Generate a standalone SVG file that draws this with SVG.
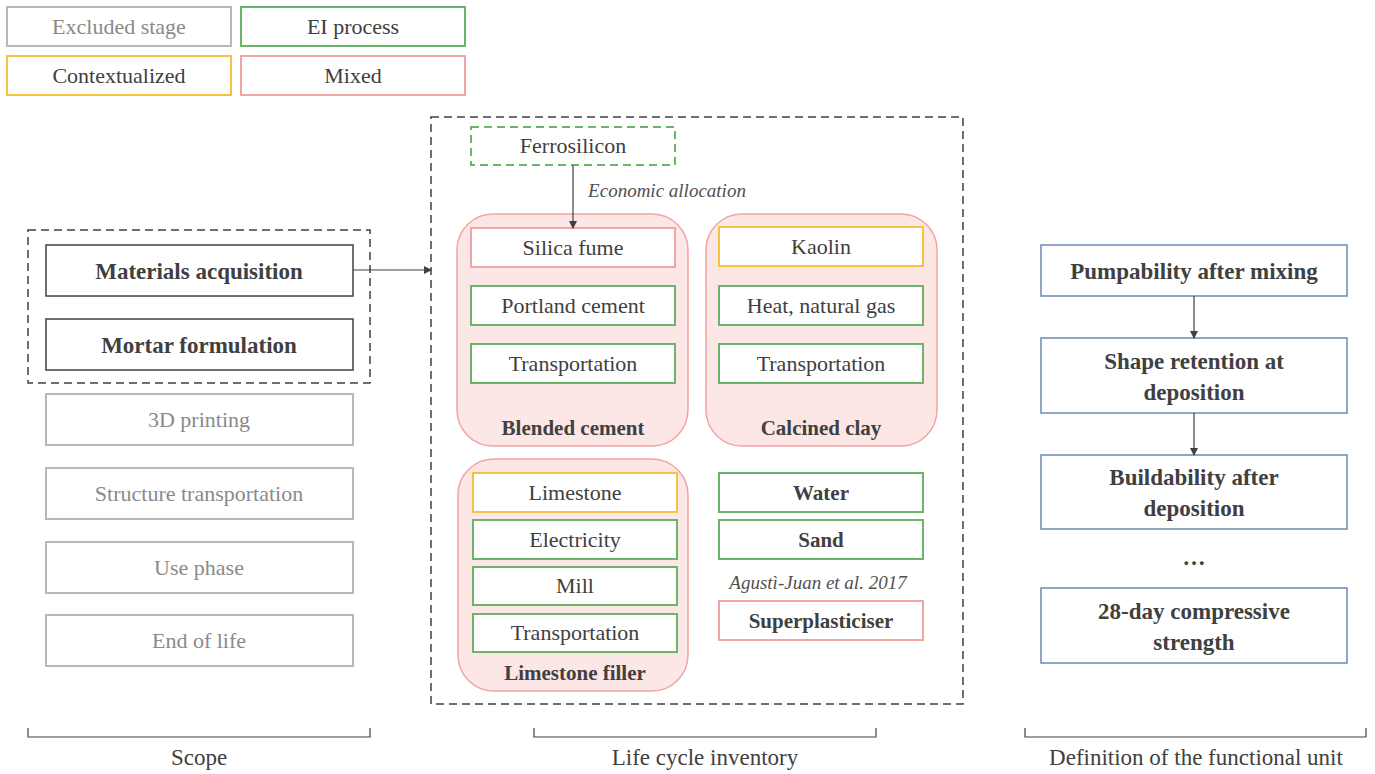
<svg xmlns="http://www.w3.org/2000/svg" width="1375" height="774" viewBox="0 0 1375 774">
<defs>
<marker id="ah" markerWidth="8" markerHeight="8" refX="7" refY="4" orient="auto" markerUnits="userSpaceOnUse">
<path d="M0,0 L8,4 L0,8 z" fill="#404040"/>
</marker>
<style>
.t{font-size:22px;fill:#404040;text-anchor:middle;}
.b{font-size:23px;font-weight:bold;fill:#404040;text-anchor:middle;}
.s{font-size:21px;font-weight:bold;fill:#404040;text-anchor:middle;}
.i{font-size:19px;font-style:italic;fill:#505050;text-anchor:middle;}
.l{font-size:23px;fill:#404040;text-anchor:middle;}
.gt{font-size:22px;fill:#8a8a8a;text-anchor:middle;}
.g{fill:#fff;stroke:#6cb46c;stroke-width:2;}
.y{fill:#fff;stroke:#f5c242;stroke-width:2;}
.p{fill:#fff;stroke:#f2a4a4;stroke-width:2;}
.x{fill:#fff;stroke:#b8b8b8;stroke-width:2;}
.k{fill:#fff;stroke:#404040;stroke-width:1.5;}
.bl{fill:#fff;stroke:#6a8ab4;stroke-width:1.5;}
.grp{fill:#fde6e6;stroke:#f2a4a4;stroke-width:1.5;}
.dash{fill:none;stroke:#404040;stroke-width:1.5;stroke-dasharray:8,5;}
.con{fill:none;stroke:#404040;stroke-width:1.2;}
.br{fill:none;stroke:#404040;stroke-width:1.2;}
</style>
</defs>

<g id="legend">
<g id="leg-excluded"><rect class="x" x="7" y="7" width="224" height="39"/><text font-family="Liberation Serif, serif" class="gt" x="119" y="34">Excluded stage</text></g>
<g id="leg-ei"><rect class="g" x="241" y="7" width="224" height="39"/><text font-family="Liberation Serif, serif" class="t" x="353" y="34">EI process</text></g>
<g id="leg-context"><rect class="y" x="7" y="56" width="224" height="39"/><text font-family="Liberation Serif, serif" class="t" x="119" y="83">Contextualized</text></g>
<g id="leg-mixed"><rect class="p" x="241" y="56" width="224" height="39"/><text font-family="Liberation Serif, serif" class="t" x="353" y="83">Mixed</text></g>
</g>

<g id="scope">
<rect id="scope-box" class="dash" x="28" y="230" width="342" height="153"/>
<g id="materials"><rect class="k" x="46" y="245" width="307" height="51"/><text font-family="Liberation Serif, serif" class="b" x="199" y="279">Materials acquisition</text></g>
<g id="mortar"><rect class="k" x="46" y="319" width="307" height="51"/><text font-family="Liberation Serif, serif" class="b" x="199" y="353">Mortar formulation</text></g>
<g id="printing"><rect class="x" x="46" y="394" width="307" height="51"/><text font-family="Liberation Serif, serif" class="gt" x="199" y="427">3D printing</text></g>
<g id="structtrans"><rect class="x" x="46" y="468" width="307" height="51"/><text font-family="Liberation Serif, serif" class="gt" x="199" y="501">Structure transportation</text></g>
<g id="usephase"><rect class="x" x="46" y="542" width="307" height="51"/><text font-family="Liberation Serif, serif" class="gt" x="199" y="575">Use phase</text></g>
<g id="eol"><rect class="x" x="46" y="615" width="307" height="51"/><text font-family="Liberation Serif, serif" class="gt" x="199" y="648">End of life</text></g>
</g>

<g id="lci">
<rect id="lci-box" class="dash" x="431" y="117" width="532" height="587"/>
<g id="ferrosilicon"><rect fill="#fff" stroke="#6cb46c" stroke-width="2" stroke-dasharray="8,5" x="471" y="127" width="204" height="38"/><text font-family="Liberation Serif, serif" class="t" x="573" y="153">Ferrosilicon</text></g>
<text font-family="Liberation Serif, serif" class="i" x="667" y="197">Economic allocation</text>

<g id="blended">
<rect class="grp" x="457" y="214" width="231" height="232" rx="36"/>
<rect class="p" x="471" y="228" width="204" height="39"/><text font-family="Liberation Serif, serif" class="t" x="573" y="255">Silica fume</text>
<rect class="g" x="471" y="286" width="204" height="39"/><text font-family="Liberation Serif, serif" class="t" x="573" y="313">Portland cement</text>
<rect class="g" x="471" y="344" width="204" height="39"/><text font-family="Liberation Serif, serif" class="t" x="573" y="371">Transportation</text>
<text font-family="Liberation Serif, serif" class="s" x="573" y="435">Blended cement</text>
</g>

<g id="calcined">
<rect class="grp" x="706" y="214" width="231" height="232" rx="36"/>
<rect class="y" x="719" y="227" width="204" height="39"/><text font-family="Liberation Serif, serif" class="t" x="821" y="254">Kaolin</text>
<rect class="g" x="719" y="286" width="204" height="39"/><text font-family="Liberation Serif, serif" class="t" x="821" y="313">Heat, natural gas</text>
<rect class="g" x="719" y="344" width="204" height="39"/><text font-family="Liberation Serif, serif" class="t" x="821" y="371">Transportation</text>
<text font-family="Liberation Serif, serif" class="s" x="821" y="435">Calcined clay</text>
</g>

<g id="limestonefiller">
<rect class="grp" x="458" y="459" width="230" height="232" rx="36"/>
<rect class="y" x="473" y="473" width="204" height="39"/><text font-family="Liberation Serif, serif" class="t" x="575" y="500">Limestone</text>
<rect class="g" x="473" y="520" width="204" height="39"/><text font-family="Liberation Serif, serif" class="t" x="575" y="547">Electricity</text>
<rect class="g" x="473" y="567" width="204" height="38"/><text font-family="Liberation Serif, serif" class="t" x="575" y="593">Mill</text>
<rect class="g" x="473" y="614" width="204" height="38"/><text font-family="Liberation Serif, serif" class="t" x="575" y="640">Transportation</text>
<text font-family="Liberation Serif, serif" class="s" x="575" y="680">Limestone filler</text>
</g>

<g id="water"><rect class="g" x="719" y="473" width="204" height="39"/><text font-family="Liberation Serif, serif" class="s" x="821" y="500">Water</text></g>
<g id="sand"><rect class="g" x="719" y="520" width="204" height="39"/><text font-family="Liberation Serif, serif" class="s" x="821" y="547">Sand</text></g>
<text font-family="Liberation Serif, serif" class="i" x="818" y="589">Agust&#236;-Juan et al. 2017</text>
<g id="superplasticiser"><rect class="p" x="719" y="601" width="204" height="39"/><text font-family="Liberation Serif, serif" class="s" x="821" y="628">Superplasticiser</text></g>
</g>

<g id="fu">
<g id="pump"><rect class="bl" x="1041" y="245" width="306" height="51"/><text font-family="Liberation Serif, serif" class="b" x="1194" y="279">Pumpability after mixing</text></g>
<g id="shape"><rect class="bl" x="1041" y="338" width="306" height="75"/><text font-family="Liberation Serif, serif" class="b" x="1194" y="369">Shape retention at</text><text font-family="Liberation Serif, serif" class="b" x="1194" y="400">deposition</text></g>
<g id="build"><rect class="bl" x="1041" y="455" width="306" height="74"/><text font-family="Liberation Serif, serif" class="b" x="1194" y="485">Buildability after</text><text font-family="Liberation Serif, serif" class="b" x="1194" y="516">deposition</text></g>
<text font-family="Liberation Serif, serif" class="b" x="1194" y="565">&#8230;</text>
<g id="strength"><rect class="bl" x="1041" y="588" width="306" height="75"/><text font-family="Liberation Serif, serif" class="b" x="1194" y="619">28-day compressive</text><text font-family="Liberation Serif, serif" class="b" x="1194" y="650">strength</text></g>
</g>

<g id="connectors">
<line class="con" x1="353" y1="270" x2="431" y2="270" marker-end="url(#ah)"/>
<line class="con" x1="573" y1="165" x2="573" y2="228" marker-end="url(#ah)"/>
<line class="con" x1="1194" y1="296" x2="1194" y2="338" marker-end="url(#ah)"/>
<line class="con" x1="1194" y1="413" x2="1194" y2="455" marker-end="url(#ah)"/>
</g>

<g id="brackets">
<path class="br" d="M28,728 V737 H370 V728"/>
<path class="br" d="M534,728 V737 H876 V728"/>
<path class="br" d="M1025,728 V737 H1366 V728"/>
<text font-family="Liberation Serif, serif" class="l" x="199" y="765">Scope</text>
<text font-family="Liberation Serif, serif" class="l" x="705" y="765">Life cycle inventory</text>
<text font-family="Liberation Serif, serif" class="l" x="1196" y="765">Definition of the functional unit</text>
</g>
</svg>
